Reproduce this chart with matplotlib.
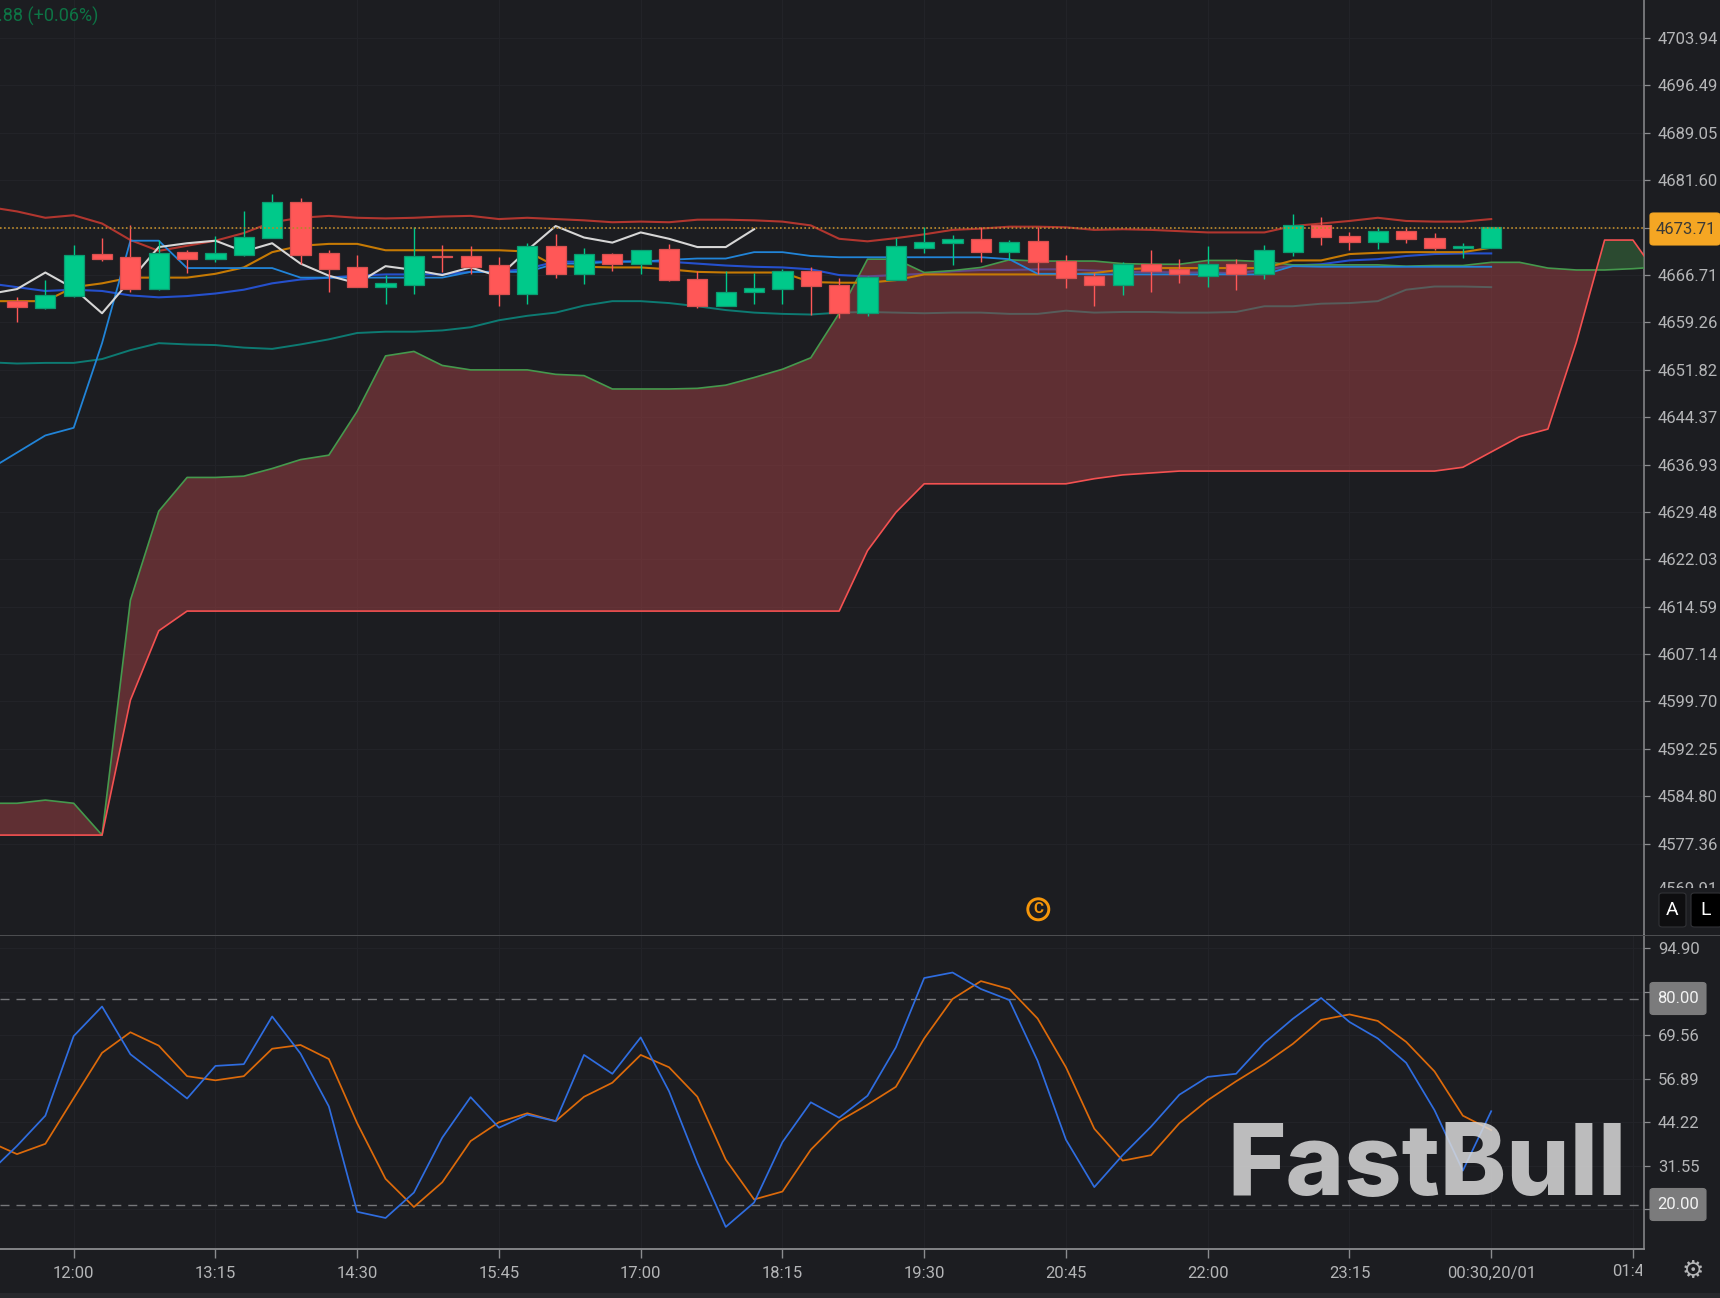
#!/usr/bin/env python3
"""FastBull style candlestick chart with Ichimoku cloud, bands and stochastic panel."""

import numpy as np
import matplotlib
matplotlib.use("Agg")
import matplotlib.pyplot as plt
from matplotlib.patches import Rectangle, FancyBboxPatch, Circle
from matplotlib.transforms import Bbox, IdentityTransform

plt.rcParams["font.family"] = ["Roboto", "DejaVu Sans"]

W, H = 1720, 1298
BG = "#1c1d21"
AXIS = "#8b8c8f"
TXT = "#b4b5b7"
GRID = "#222328"
X0, STEP = 73.7, 28.35

# ---------------------------------------------------------------------------
# Data: bars are 15 minutes, bar 0 is 12:00
# ---------------------------------------------------------------------------
candle_idx = np.arange(-2, 51)
opens = [4662.7, 4661.5, 4663.4, 4670.0, 4669.5, 4664.5, 4670.4, 4669.3, 4669.9, 4672.5, 4678.2,
         4670.2, 4667.9, 4664.9, 4665.2, 4669.7, 4669.7, 4668.3, 4663.8, 4671.3, 4666.8, 4670.0,
         4668.5, 4670.8, 4666.1, 4661.9, 4664.0, 4664.5, 4667.4, 4665.2, 4660.8, 4665.9, 4671.0,
         4671.7, 4672.3, 4670.4, 4672.1, 4668.9, 4666.6, 4665.2, 4668.5, 4667.6, 4666.6, 4668.5,
         4666.8, 4670.4, 4674.6, 4672.8, 4671.9, 4673.6, 4672.6, 4671.0, 4671.0]
closes = [4661.7, 4663.5, 4669.9, 4669.3, 4664.5, 4670.2, 4669.3, 4670.2, 4672.7, 4678.2, 4669.9,
          4667.6, 4664.9, 4665.5, 4669.7, 4669.5, 4667.9, 4663.8, 4671.2, 4666.8, 4670.0, 4668.5,
          4670.6, 4665.9, 4661.9, 4664.0, 4664.7, 4667.4, 4665.0, 4660.8, 4666.4, 4671.3, 4671.9,
          4672.3, 4670.4, 4671.9, 4668.7, 4666.3, 4665.2, 4668.5, 4667.4, 4666.8, 4668.5, 4666.8,
          4670.6, 4674.6, 4672.7, 4671.9, 4673.6, 4672.3, 4671.0, 4671.3, 4674.2]
highs = [4663.3, 4666.0, 4671.4, 4672.6, 4674.5, 4672.2, 4670.7, 4672.9, 4676.7, 4679.5, 4678.8,
         4670.6, 4669.9, 4666.7, 4674.2, 4671.4, 4671.2, 4669.5, 4671.8, 4673.1, 4670.9, 4670.1,
         4670.6, 4671.6, 4667.3, 4667.3, 4667.0, 4667.6, 4667.9, 4666.2, 4666.5, 4672.5, 4674.2,
         4673.0, 4674.2, 4672.2, 4674.2, 4669.9, 4667.0, 4668.8, 4670.7, 4669.3, 4671.2, 4669.3,
         4671.4, 4676.3, 4675.9, 4673.4, 4674.2, 4674.2, 4673.3, 4671.8, 4674.2]
lows = [4659.4, 4661.3, 4663.2, 4668.9, 4664.0, 4664.3, 4667.1, 4668.7, 4669.7, 4672.5, 4668.5,
        4664.0, 4664.9, 4662.1, 4663.8, 4667.2, 4666.8, 4661.9, 4662.1, 4666.3, 4665.3, 4667.4,
        4666.8, 4665.7, 4661.5, 4661.9, 4662.1, 4662.1, 4660.4, 4659.9, 4660.2, 4665.9, 4670.2,
        4668.3, 4668.7, 4669.0, 4666.9, 4664.6, 4661.9, 4663.6, 4664.0, 4665.5, 4664.9, 4664.4,
        4666.1, 4669.7, 4671.5, 4670.6, 4670.8, 4671.7, 4670.6, 4669.4, 4671.0]

line_idx = np.arange(-3, 51)
band_upper = [4677.4, 4676.7, 4675.7, 4676.1, 4674.8, 4672.2, 4670.5, 4671.3, 4672.1, 4673.3, 4675.0,
              4675.7, 4676.0, 4675.7, 4675.6, 4675.7, 4675.9, 4676.0, 4675.5, 4675.7, 4675.5, 4675.3,
              4675.0, 4675.1, 4675.0, 4675.4, 4675.4, 4675.3, 4675.1, 4674.5, 4672.4, 4672.0, 4672.5,
              4673.1, 4673.8, 4674.0, 4674.3, 4674.3, 4674.2, 4673.8, 4673.9, 4673.8, 4673.6, 4673.4,
              4673.4, 4673.4, 4674.4, 4674.8, 4675.2, 4675.7, 4675.2, 4675.1, 4675.1, 4675.5]
band_lower = [4653.0, 4652.8, 4652.9, 4652.9, 4653.5, 4654.9, 4656.0, 4655.8, 4655.7, 4655.3, 4655.1,
              4655.8, 4656.6, 4657.6, 4657.8, 4657.8, 4658.0, 4658.5, 4659.6, 4660.3, 4660.8, 4661.9,
              4662.6, 4662.6, 4662.3, 4661.8, 4661.2, 4660.8, 4660.6, 4660.5, 4660.8, 4660.9, 4660.8,
              4660.7, 4660.8, 4660.8, 4660.6, 4660.6, 4661.1, 4660.8, 4660.9, 4660.9, 4660.8, 4660.8,
              4660.9, 4661.8, 4661.8, 4662.2, 4662.3, 4662.6, 4664.4, 4664.9, 4664.9, 4664.8]
tenkan = [4662.6, 4662.6, 4662.6, 4664.8, 4665.4, 4666.3, 4666.3, 4666.3, 4666.9, 4667.9, 4670.3,
          4671.3, 4671.6, 4671.6, 4670.6, 4670.6, 4670.6, 4670.6, 4670.6, 4670.4, 4668.1, 4668.0,
          4667.9, 4667.9, 4667.6, 4667.2, 4667.1, 4667.1, 4667.1, 4665.6, 4665.5, 4665.5, 4665.9,
          4666.8, 4666.8, 4666.8, 4666.8, 4666.8, 4666.8, 4667.0, 4667.6, 4667.8, 4667.8, 4667.8,
          4667.8, 4667.8, 4669.0, 4669.0, 4670.0, 4670.2, 4670.3, 4670.3, 4670.3, 4671.0]
band_mid = [4665.4, 4664.8, 4664.2, 4664.4, 4664.2, 4663.5, 4663.2, 4663.4, 4663.8, 4664.4, 4665.4,
            4666.0, 4666.3, 4666.6, 4666.8, 4666.8, 4666.8, 4667.2, 4667.2, 4667.7, 4668.8, 4668.8,
            4668.8, 4668.9, 4668.8, 4668.5, 4668.2, 4668.0, 4667.9, 4667.6, 4666.7, 4666.5, 4666.7,
            4666.9, 4667.3, 4667.5, 4667.5, 4667.6, 4667.6, 4667.4, 4667.2, 4667.2, 4667.1, 4667.1,
            4667.0, 4667.5, 4668.2, 4668.4, 4669.0, 4669.2, 4669.7, 4670.0, 4670.1, 4670.1]
kijun = [4636.1, 4638.8, 4641.5, 4642.7, 4656.0, 4672.1, 4672.1, 4667.8, 4667.8, 4667.8, 4667.8,
         4666.3, 4666.3, 4666.3, 4666.3, 4666.3, 4666.3, 4667.2, 4667.2, 4667.2, 4668.5, 4668.5,
         4668.8, 4668.8, 4669.1, 4669.3, 4669.3, 4670.3, 4670.3, 4669.7, 4669.5, 4669.5, 4669.5,
         4669.5, 4669.5, 4669.5, 4669.2, 4666.9, 4666.9, 4666.8, 4666.8, 4666.8, 4666.8, 4666.8,
         4666.8, 4666.8, 4668.1, 4668.0, 4668.0, 4668.0, 4668.0, 4668.0, 4668.0, 4668.0]

chikou_idx = np.arange(-3, 25)
chikou = [4663.7, 4664.5, 4667.1, 4664.6, 4660.7, 4665.9, 4671.1, 4671.7, 4672.1, 4670.4, 4671.7,
          4668.5, 4666.6, 4665.4, 4668.1, 4667.5, 4666.7, 4667.9, 4666.5, 4670.6, 4674.4, 4672.6,
          4671.8, 4673.4, 4672.4, 4671.1, 4671.1, 4673.9]

cloud_idx = np.arange(-3, 57)
span_a = [4583.7, 4583.7, 4584.2, 4583.7, 4578.7, 4615.6, 4629.6, 4634.9, 4634.9, 4635.1, 4636.3,
          4637.7, 4638.4, 4645.3, 4654.0, 4654.7, 4652.5, 4651.8, 4651.8, 4651.8, 4651.1, 4650.9,
          4648.8, 4648.8, 4648.8, 4648.9, 4649.4, 4650.6, 4651.9, 4653.7, 4660.7, 4669.2, 4669.2,
          4667.1, 4667.4, 4667.9, 4669.1, 4668.9, 4668.9, 4668.9, 4668.5, 4668.4, 4668.4, 4669.0,
          4669.0, 4668.8, 4668.3, 4668.3, 4668.3, 4668.3, 4668.1, 4668.2, 4668.2, 4668.7, 4668.7,
          4667.8, 4667.5, 4667.5, 4667.7, 4668.0]
span_b = [4578.7, 4578.7, 4578.7, 4578.7, 4578.7, 4599.9, 4610.8, 4613.9, 4613.9, 4613.9, 4613.9,
          4613.9, 4613.9, 4613.9, 4613.9, 4613.9, 4613.9, 4613.9, 4613.9, 4613.9, 4613.9, 4613.9,
          4613.9, 4613.9, 4613.9, 4613.9, 4613.9, 4613.9, 4613.9, 4613.9, 4613.9, 4623.4, 4629.4,
          4633.9, 4633.9, 4633.9, 4633.9, 4633.9, 4633.9, 4634.7, 4635.3, 4635.6, 4635.9, 4635.9,
          4635.9, 4635.9, 4635.9, 4635.9, 4635.9, 4635.9, 4635.9, 4635.9, 4636.5, 4638.9, 4641.3,
          4642.5, 4656.1, 4672.2, 4672.2, 4665.9]

stoch_k = [29.3, 37.3, 46.1, 69.3, 77.9, 64.0, 57.6, 51.1, 60.6, 61.1, 75.0, 64.2, 48.8, 18.1, 16.3,
           23.7, 39.7, 51.5, 42.6, 46.4, 44.5, 63.8, 58.3, 68.9, 53.2, 32.3, 13.7, 20.8, 38.4, 50.0,
           45.5, 51.9, 66.0, 86.2, 87.8, 83.0, 79.8, 62.1, 39.1, 25.3, 34.6, 42.9, 52.2, 57.4, 58.3,
           67.3, 74.3, 80.4, 73.4, 68.6, 61.5, 47.7, 30.1, 47.4]
stoch_d = [38.6, 34.9, 37.9, 51.2, 64.4, 70.4, 66.5, 57.6, 56.4, 57.6, 65.6, 66.7, 62.6, 43.9, 27.7,
           19.5, 26.7, 38.7, 44.2, 46.8, 44.5, 51.6, 55.7, 63.8, 60.2, 51.6, 33.3, 21.7, 24.0, 36.2,
           44.5, 49.3, 54.5, 68.6, 80.1, 85.3, 83.0, 74.4, 60.2, 42.3, 33.0, 34.6, 43.9, 50.6, 56.1,
           61.2, 67.0, 74.0, 75.6, 73.7, 67.6, 59.0, 46.1, 41.9]

last_line = 4674.1
last_label = "4673.71"
price_ticks = [4703.94, 4696.49, 4689.05, 4681.60, 4674.16, 4666.71, 4659.26, 4651.82, 4644.37,
               4636.93, 4629.48, 4622.03, 4614.59, 4607.14, 4599.70, 4592.25, 4584.80, 4577.36]
price_hidden = [4674.16]
clipped_price = 4569.91
stoch_ticks = [94.90, 82.23, 69.56, 56.89, 44.22, 31.55, 18.88]
stoch_hidden = [82.23, 18.88]
time_pos = np.arange(0, 51, 5)
time_labels = ["12:00", "13:15", "14:30", "15:45", "17:00", "18:15", "19:30", "20:45", "22:00",
               "23:15", "00:30,20/01"]


def px_x(x):
    return x / W


def px_y(y):
    return 1 - y / H


def make_axes(fig, top, bottom, right=1644):
    return fig.add_axes([0, px_y(bottom), right / W, (bottom - top) / H], facecolor=BG)


fig = plt.figure(figsize=(W / 100, H / 100), dpi=100, facecolor=BG)
ax = make_axes(fig, 0, 935)
sub = make_axes(fig, 935.5, 1249)

xlim = (-X0 / STEP, (1644 - X0) / STEP)
ax.set_xlim(*xlim)
sub.set_xlim(*xlim)
ax.set_ylim(4666.71 - 660 / 6.364, 4666.71 + 275 / 6.364)
sub.set_ylim(80 - (1249 - 999.3) / 3.433, 80 + (999.3 - 935.5) / 3.433)

for a in (ax, sub):
    for s in ("top", "left", "bottom"):
        a.spines[s].set_visible(False)
    a.spines["right"].set_color(AXIS)
    a.spines["right"].set_linewidth(1.1)
    a.yaxis.tick_right()
    a.tick_params(axis="y", colors=AXIS, labelcolor=TXT, labelsize=12, length=4.5, width=0.9, pad=5.5)
    a.set_xticks(time_pos)
    a.grid(True, color=GRID, linewidth=0.8)
    a.set_axisbelow(True)

# --- price panel ---
ax.set_yticks(price_ticks)
ax.set_yticklabels(["" if p in price_hidden else f"{p:.2f}" for p in price_ticks], va="center_baseline")
ax.tick_params(axis="x", length=0, labelbottom=False)

ax.plot(line_idx, band_lower, color="#0d7a72", lw=1.4, zorder=2)
ax.plot(line_idx, band_mid, color="#2550cc", lw=1.5, zorder=2)

a_arr, b_arr = np.array(span_a), np.array(span_b)
ax.fill_between(cloud_idx, span_a, span_b, where=a_arr >= b_arr, interpolate=True,
                color="#a24145", alpha=0.5, lw=0, zorder=3)
ax.fill_between(cloud_idx, span_a, span_b, where=a_arr <= b_arr, interpolate=True,
                color="#3a773f", alpha=0.5, lw=0, zorder=3)
ax.plot(cloud_idx, span_a, color="#45994d", lw=1.2, zorder=3.5)
ax.plot(cloud_idx, span_b, color="#f45151", lw=1.2, zorder=3.5)

ax.plot(line_idx, band_upper, color="#b1362f", lw=1.5, zorder=4)
ax.plot(line_idx, tenkan, color="#c67a04", lw=1.5, zorder=4)
ax.plot(line_idx, kijun, color="#2184d8", lw=1.3, zorder=4)
ax.plot(chikou_idx, chikou, color="#d6d6d6", lw=1.5, zorder=4)

for i, o, h, l, c in zip(candle_idx, opens, highs, lows, closes):
    up = c >= o
    body = "#00c98a" if up else "#ff5757"
    edge = "#0b9c72" if up else "#d9504f"
    ax.plot([i, i], [l, h], color=body, lw=1.0, zorder=5, solid_capstyle="butt")
    ax.bar(i, abs(c - o), bottom=min(o, c), width=0.71, color=body, edgecolor=edge,
           linewidth=0.9, zorder=6)

ax.axhline(last_line, color="#b5862c", lw=1.3, linestyle=(0, (0.9, 1.35)), zorder=7)

# --- stochastic panel ---
sub.spines["bottom"].set_visible(True)
sub.spines["bottom"].set_color(AXIS)
sub.spines["bottom"].set_linewidth(1.3)
sub.set_yticks(stoch_ticks)
sub.set_yticklabels(["" if v in stoch_hidden else f"{v:.2f}" for v in stoch_ticks], va="center_baseline")
sub.set_xticks(list(time_pos) + [55])
sub.set_xticklabels(time_labels + [""])
sub.tick_params(axis="x", colors=AXIS, labelcolor=TXT, labelsize=12, length=6.5, width=1.0, pad=5.5)

for level in (80, 20):
    sub.plot([xlim[0], 55.2], [level, level], color="#77787b", lw=1.0, dashes=(6.5, 5), zorder=2)
sub.plot(line_idx, stoch_d, color="#dd6a0a", lw=1.25, zorder=3)
sub.plot(line_idx, stoch_k, color="#2f6de0", lw=1.25, zorder=3)

# --- decorations in figure pixels ---
def badge(x0, y0, x1, y1, face, edge=None):
    fig.add_artist(FancyBboxPatch((px_x(x0), px_y(y1)), (x1 - x0) / W, (y1 - y0) / H,
                                  boxstyle="round,pad=0,rounding_size=0.002",
                                  transform=fig.transFigure, facecolor=face,
                                  edgecolor=edge or face, linewidth=0.8, zorder=20))


def clipped_text(x, y, s, clip, **kw):
    t = fig.text(px_x(x), px_y(y), s, zorder=21, **kw)
    t.set_clip_box(Bbox.from_extents(clip[0], H - clip[3], clip[2], H - clip[1]))
    t.set_clip_on(True)


# separator and bottom strip
fig.add_artist(Rectangle((0, px_y(936)), 1, 1.2 / H, transform=fig.transFigure,
                         facecolor="#4c4d50", lw=0, zorder=19))
fig.add_artist(Rectangle((0, 0), 1, 5 / H, transform=fig.transFigure,
                         facecolor="#27282c", lw=0, zorder=19))

# last price and level badges
badge(1650, 213, 1720, 245, "#f5a623")
fig.text(px_x(1686), px_y(229), last_label, color="#3b3a36", fontsize=12, ha="center", va="center", zorder=21)
for y, label in ((998.5, "80.00"), (1204.5, "20.00")):
    badge(1650, y - 16, 1706, y + 16, "#7b7b7c")
    fig.text(px_x(1678), px_y(y), label, color="#f2f2f2", fontsize=12, ha="center", va="center", zorder=21)

# axis scale buttons
badge(1659, 893, 1686, 927, "#0e0e10", "#313236")
badge(1691, 893, 1722, 927, "#000000", "#313236")
fig.text(px_x(1672.5), px_y(910), "A", color="#ffffff", fontsize=14, ha="center", va="center", zorder=21)
fig.text(px_x(1706), px_y(910), "L", color="#ffffff", fontsize=14, ha="center", va="center", zorder=21)

# labels cut off at the edge of their panels
clipped_text(1658, 890, f"{clipped_price:.2f}", (1650, 870, 1720, 887.5), color=TXT, fontsize=12, va="center")
clipped_text(X0 + 55 * STEP, 1271, "01:45", (1600, 1255, 1642, 1290), color=TXT, fontsize=12, ha="center", va="center")

# top left change label, event marker, gear and watermark
fig.text(px_x(-2), px_y(16), ".88 (+0.06%)", color="#0d7445", fontsize=13, va="center", zorder=21)
fig.add_artist(Circle((1038.3, H - 909.3), 10.5, transform=IdentityTransform(), fill=False,
                      edgecolor="#f5960a", linewidth=2.1, zorder=20))
fig.text(px_x(1038.3), px_y(909.3), "C", color="#f5960a", fontsize=11, weight="bold", ha="center", va="center", zorder=21)
fig.text(px_x(1693), px_y(1271), "\u2699", family="DejaVu Sans", color=TXT, fontsize=18, ha="center", va="center", zorder=21)
fig.text(px_x(1427), px_y(1195), "FastBull", family="Inter", weight=800, color="#d9d9d9",
         fontsize=72, ha="center", va="baseline", alpha=0.85, zorder=18)

fig.savefig("out.png", dpi=100, facecolor=BG)
